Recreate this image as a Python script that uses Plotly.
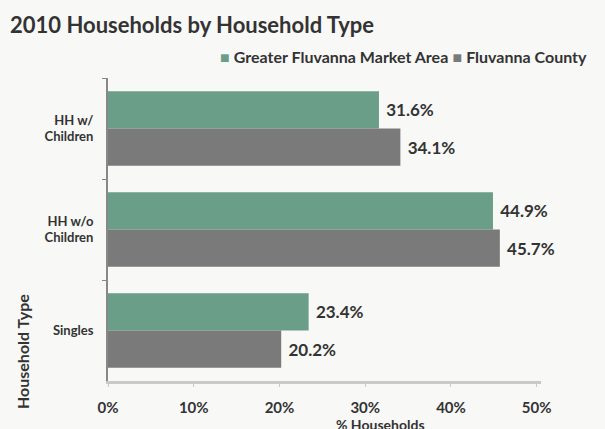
import plotly.graph_objects as go

# Household type categories (top to bottom)
categories = ["HH w/<br>Children", "HH w/o<br>Children", "Singles"]
series_names = ["Greater Fluvanna Market Area", "Fluvanna County"]
market_area = [31.6, 44.9, 23.4]
county = [34.1, 45.7, 20.2]
x_ticks = [0, 10, 20, 30, 40, 50]
x_tick_labels = ["0%", "10%", "20%", "30%", "40%", "50%"]

GREEN = "#6b9e88"
GRAY = "#7a7a7a"
TEXT = "#333333"
BG = "#f8f8f6"
FONT = "Lato"

W, H = 605, 429
ML, MR, MT, MB = 108, 64, 78, 48

fig = go.Figure()
for name, vals, color in [(series_names[0], market_area, GREEN),
                          (series_names[1], county, GRAY)]:
    fig.add_trace(go.Bar(
        y=categories, x=vals, orientation="h", name=name,
        marker=dict(color=color, line=dict(width=0)),
        text=[f"\u2009\u2009{v:.1f}%" for v in vals],
        textposition="outside", cliponaxis=False,
        textfont=dict(family=FONT, size=17, color=TEXT, weight="bold"),
        showlegend=False,
    ))

fig.update_layout(
    width=W, height=H,
    margin=dict(l=ML, r=MR, t=MT, b=MB),
    paper_bgcolor=BG, plot_bgcolor=BG,
    barmode="group", bargap=0.26, bargroupgap=0,
    font=dict(family=FONT, color=TEXT),
    xaxis=dict(
        range=[0, 50.5], tickvals=x_ticks, ticktext=x_tick_labels,
        showgrid=False, zeroline=False,
        showline=True, linecolor="#c9c9c9", linewidth=3,
        ticks="outside", ticklen=3, tickcolor="#c9c9c9",
        tickfont=dict(family=FONT, size=15, color=TEXT, weight="bold"),
        ticklabelstandoff=8,
    ),
    yaxis=dict(
        autorange="reversed", showgrid=False, zeroline=False,
        showline=True, linecolor="#888888", linewidth=2,
        ticks="outside", ticklen=4, tickcolor="#888888",
        tickson="boundaries",
        tickfont=dict(family=FONT, size=13, color=TEXT, weight="bold"),
        ticklabelstandoff=10,
    ),
)

# Helpers to place text in pixel positions via paper coordinates
pw = W - ML - MR
ph = H - MT - MB

def px(x):
    return (x - ML) / pw

def py(y):
    return (H - MB - y) / ph

fig.add_annotation(
    text="<b>2010 Households by Household Type</b>",
    x=px(8), y=py(24), xref="paper", yref="paper",
    xanchor="left", yanchor="middle", showarrow=False,
    font=dict(family=FONT, size=22, color=TEXT),
)
fig.add_annotation(
    text=(f"<span style='color:{GREEN}'>■</span> <b>{series_names[0]}</b> "
          f"<span style='color:{GRAY}'>■</span> <b>{series_names[1]}</b>"),
    x=px(589), y=py(57), xref="paper", yref="paper",
    xanchor="right", yanchor="middle", showarrow=False,
    font=dict(family=FONT, size=16, color=TEXT),
)
fig.add_annotation(
    text="<b>% Households</b>",
    x=px(380), y=py(424), xref="paper", yref="paper",
    xanchor="center", yanchor="middle", showarrow=False,
    font=dict(family=FONT, size=14, color=TEXT),
)
fig.add_annotation(
    text="<b>Household Type</b>",
    x=px(22), y=py(352), xref="paper", yref="paper",
    xanchor="center", yanchor="middle", showarrow=False, textangle=-90,
    font=dict(family=FONT, size=16, color=TEXT),
)

fig.write_html("out.html")
